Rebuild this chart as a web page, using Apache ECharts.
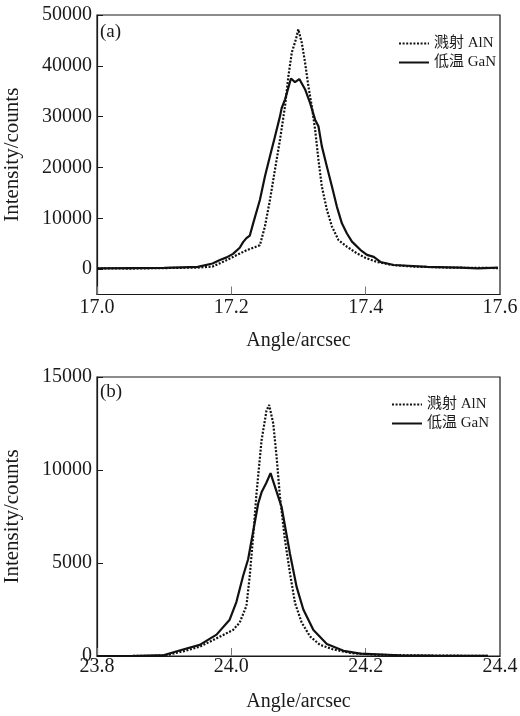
<!DOCTYPE html>
<html>
<head>
<meta charset="utf-8">
<script src="https://cdn.jsdelivr.net/npm/echarts@6/dist/echarts.min.js"></script>
<style>
html,body{margin:0;padding:0;background:#fff;}
#chart{width:520px;height:716px;}
</style>
</head>
<body>
<div id="chart"></div>
<script>
// ---- Data ----
const seriesNames = ['溅射 AlN', '低温 GaN'];
const panelLabels = ['(a)', '(b)'];
const yAxisName = 'Intensity/counts';
const xAxisName = 'Angle/arcsec';

// Panel (a)
const aTicksY = [0, 10000, 20000, 30000, 40000, 50000];
const aAngleAlN = [17.000, 17.050, 17.100, 17.150, 17.172, 17.192, 17.2025, 17.2225, 17.2425, 17.250, 17.2575, 17.265, 17.2725, 17.280, 17.285, 17.290, 17.2963, 17.2997, 17.3048, 17.3097, 17.3147, 17.3197, 17.3247, 17.3297, 17.3347, 17.3422, 17.3497, 17.3596, 17.3721, 17.387, 17.400, 17.417, 17.440, 17.470, 17.520, 17.597];
const aAlN = [150, 100, 200, 300, 500, 1700, 2400, 3700, 4700, 8400, 13600, 19600, 25500, 32100, 38000, 42600, 45300, 47200, 44600, 40700, 36000, 32100, 27500, 21500, 16300, 11700, 8400, 5700, 4400, 3100, 2200, 1400, 800, 500, 300, 200];
const aAngleGaN = [17.000, 17.050, 17.100, 17.150, 17.172, 17.183, 17.193, 17.2025, 17.2125, 17.2175, 17.2225, 17.2275, 17.2325, 17.2425, 17.250, 17.2575, 17.265, 17.2725, 17.275, 17.280, 17.2888, 17.2948, 17.3012, 17.3097, 17.3172, 17.3247, 17.3297, 17.3347, 17.3422, 17.3497, 17.3571, 17.3646, 17.3721, 17.3796, 17.392, 17.402, 17.412, 17.422, 17.442, 17.492, 17.540, 17.567, 17.597];
const aGaN = [150, 200, 250, 450, 1100, 1800, 2300, 3000, 4200, 5300, 6100, 6600, 9000, 13600, 18200, 22200, 26100, 30100, 31700, 33400, 37500, 36800, 37400, 35400, 32700, 29400, 28100, 24200, 20200, 16300, 12300, 9000, 7000, 5400, 3800, 2800, 2400, 1400, 800, 450, 300, 150, 300];

// Panel (b)
const bAngleAlN = [23.800, 23.850, 23.900, 23.928, 23.953, 23.978, 24.0025, 24.0125, 24.0225, 24.0274, 24.0324, 24.0374, 24.045, 24.0524, 24.0563, 24.0624, 24.0674, 24.0723, 24.0798, 24.0873, 24.0948, 24.1047, 24.1172, 24.132, 24.152, 24.180, 24.220, 24.300, 24.382];
const bAlN = [0, 0, 20, 250, 500, 950, 1400, 1800, 2700, 4300, 6400, 8700, 11600, 13200, 13500, 12500, 10700, 8600, 6250, 4450, 2850, 1800, 1050, 600, 350, 150, 60, 20, 10];
const bAngleGaN = [23.800, 23.850, 23.900, 23.928, 23.953, 23.978, 23.9975, 24.0075, 24.0175, 24.025, 24.032, 24.040, 24.045, 24.052, 24.0584, 24.0749, 24.0873, 24.0973, 24.1072, 24.1222, 24.1422, 24.167, 24.192, 24.250, 24.300, 24.382];
const bGaN = [0, 0, 50, 350, 600, 1150, 1950, 2900, 4300, 5200, 6600, 8200, 8800, 9300, 9830, 8000, 5500, 3700, 2500, 1400, 650, 280, 130, 40, 20, 10];

// ---- Chart ----
const FONT = "'Liberation Serif', 'Noto Sans CJK SC', serif";
const INK = '#1a1a1a';
const pair = (xs, ys) => xs.map((x, i) => [x, ys[i]]);

function xAxisCfg(gi, min, max, margin) {
  return {
    type: 'value', gridIndex: gi, min: min, max: max, interval: 0.2,
    name: xAxisName, nameLocation: 'middle', nameGap: 36,
    nameTextStyle: { fontFamily: FONT, fontSize: 20, color: INK },
    axisLine: { show: true, onZero: false, lineStyle: { color: INK, width: 1.2 } },
    axisTick: { show: true, inside: true, length: 8, lineStyle: { color: '#777', width: 1 } },
    axisLabel: { fontFamily: FONT, fontSize: 20, color: INK, margin: margin,
      formatter: v => v.toFixed(1) },
    splitLine: { show: false }
  };
}
function yAxisCfg(gi, min, max, ticks, interval) {
  const ax = {
    type: 'value', gridIndex: gi, min: min, max: max,
    name: yAxisName, nameLocation: 'middle', nameGap: 74,
    nameTextStyle: { fontFamily: FONT, fontSize: 21, color: INK },
    axisLine: { show: true, onZero: false, lineStyle: { color: INK, width: 1.2 } },
    axisTick: { show: true, inside: true, length: 6, lineStyle: { color: INK, width: 1 } },
    axisLabel: { fontFamily: FONT, fontSize: 20, color: INK, margin: 5, formatter: v => String(Math.round(v)) },
    splitLine: { show: false }
  };
  if (ticks) { ax.axisTick.customValues = ticks; ax.axisLabel.customValues = ticks; }
  if (interval) ax.interval = interval;
  return ax;
}
function lineSeries(name, xi, data, dotted) {
  return {
    type: 'line', name: name, xAxisIndex: xi, yAxisIndex: xi,
    data: data, showSymbol: false, symbol: 'none', smooth: false,
    lineStyle: dotted ? { color: '#111', width: 2.2, type: [2, 1.6] } : { color: '#111', width: 2.2 },
    itemStyle: { color: '#111' }
  };
}
function legendCfg(left, top) {
  return { data: seriesNames, left: left, top: top, orient: 'vertical', itemWidth: 30, itemHeight: 14, itemGap: 4,
    itemStyle: { opacity: 0 },
    textStyle: { fontFamily: FONT, fontSize: 15, color: INK } };
}

const chart = echarts.init(document.getElementById('chart'), null, { renderer: 'canvas' });
chart.setOption({
  animation: false,
  backgroundColor: '#fff',
  grid: [
    { left: 97, width: 403, top: 15, height: 279.5, show: true, borderColor: INK, borderWidth: 1.2, containLabel: false, outerBoundsMode: 'none' },
    { left: 97, width: 403, top: 377, height: 279, show: true, borderColor: INK, borderWidth: 1.2, containLabel: false, outerBoundsMode: 'none' }
  ],
  xAxis: [ xAxisCfg(0, 17.0, 17.6, 3), xAxisCfg(1, 23.8, 24.4, 1) ],
  yAxis: [ yAxisCfg(0, -5000, 50000, aTicksY, null), yAxisCfg(1, 0, 15000, null, 5000) ],
  legend: [ legendCfg(393, 31), legendCfg(386, 392) ],
  graphic: [
    { type: 'text', left: 100, top: 23, style: { text: panelLabels[0], font: "19px " + FONT, fill: INK } },
    { type: 'text', left: 100, top: 383, style: { text: panelLabels[1], font: "19px " + FONT, fill: INK } }
  ],
  series: [
    lineSeries(seriesNames[0], 0, pair(aAngleAlN, aAlN), true),
    lineSeries(seriesNames[1], 0, pair(aAngleGaN, aGaN), false),
    lineSeries(seriesNames[0], 1, pair(bAngleAlN, bAlN), true),
    lineSeries(seriesNames[1], 1, pair(bAngleGaN, bGaN), false)
  ]
});
</script>
</body>
</html>
